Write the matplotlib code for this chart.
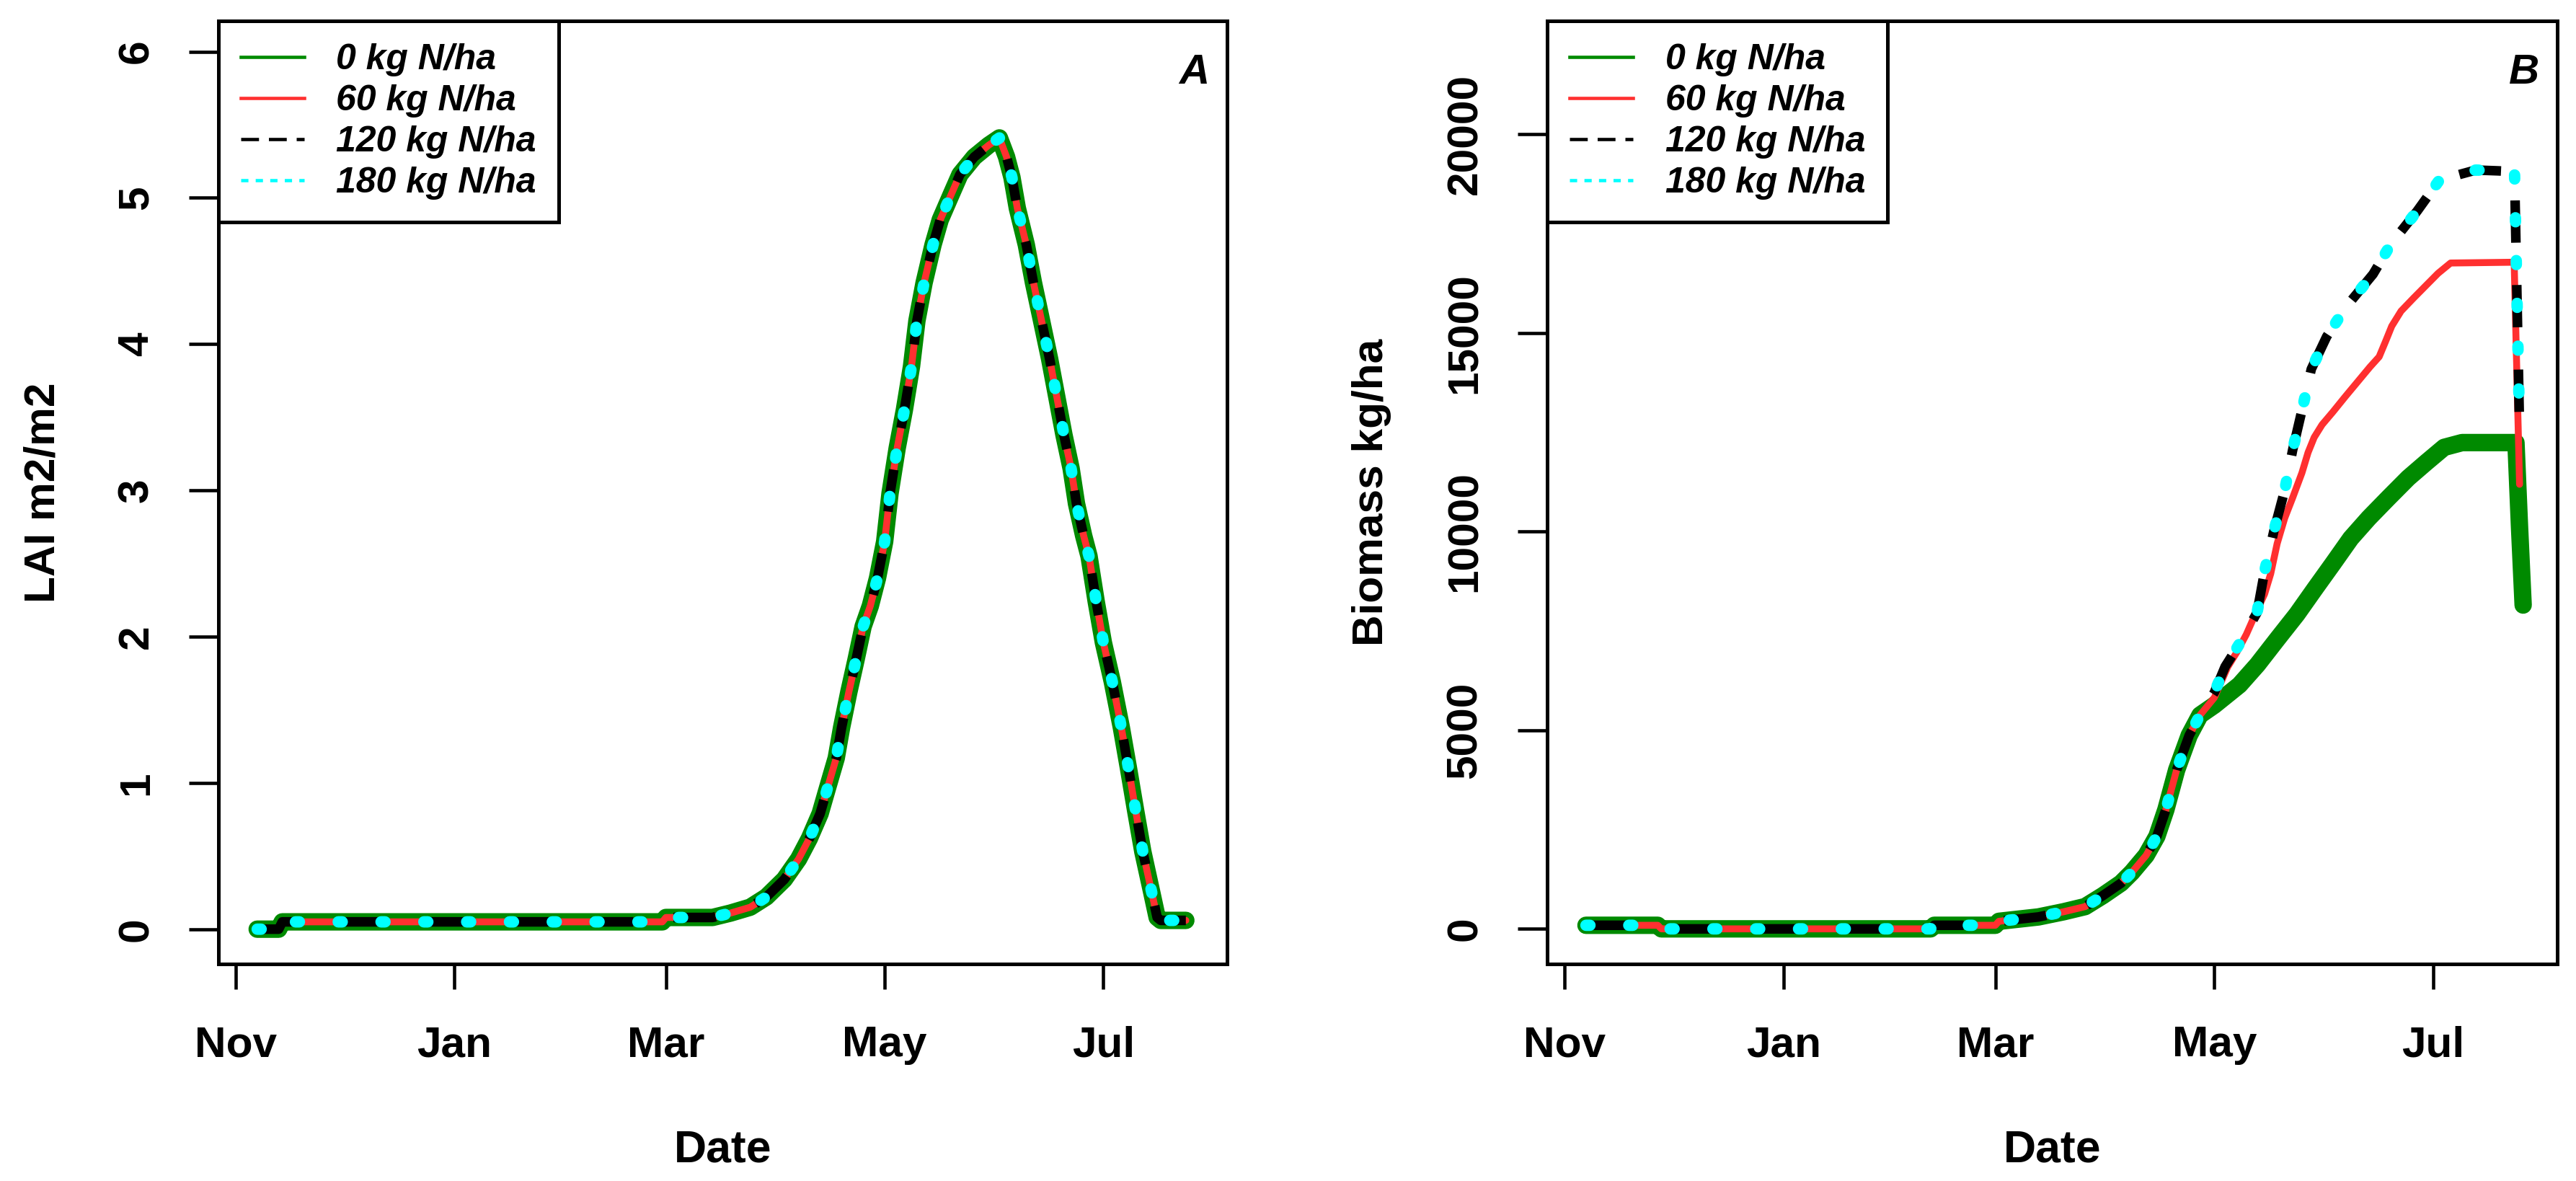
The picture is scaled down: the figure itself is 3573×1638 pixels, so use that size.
import numpy as np
import matplotlib
matplotlib.use("Agg")
import matplotlib.pyplot as plt
import matplotlib.dates as mdates
from matplotlib.lines import Line2D

plt.rcParams['font.family'] = ['Liberation Sans', 'DejaVu Sans']
plt.rcParams['font.weight'] = 'bold'

# season start; all days below are counted from this date
season_start = np.datetime64('2014-11-01')

treatments = ['0 kg N/ha', '60 kg N/ha', '120 kg N/ha', '180 kg N/ha']

# LAI is the same for every N rate
lai_day = [6, 12, 13, 119, 120, 133, 138, 143.5, 148, 153, 157, 160, 163, 165,
           167.5, 169, 171, 173, 175, 177, 179, 181, 182.5, 184.5, 186.5, 188.5,
           190, 192, 194.5, 196.5, 199.5, 202, 206, 210, 213, 215, 216.5, 218,
           220.5, 222.5, 224.5, 227, 229, 231, 233, 234.5, 236.5, 238, 240, 242,
           244.5, 247, 249, 251, 253, 255.5, 257, 258, 265]
lai_val = [0.0, 0.0, 0.05, 0.05, 0.08, 0.08, 0.11, 0.15, 0.22, 0.34, 0.48, 0.62,
           0.79, 0.96, 1.17, 1.38, 1.62, 1.84, 2.07, 2.21, 2.40, 2.65, 2.98, 3.29,
           3.55, 3.85, 4.16, 4.42, 4.68, 4.85, 5.02, 5.16, 5.28, 5.36, 5.41, 5.28,
           5.14, 4.93, 4.68, 4.42, 4.19, 3.90, 3.64, 3.38, 3.15, 2.91, 2.69, 2.55,
           2.24, 1.96, 1.69, 1.38, 1.10, 0.81, 0.53, 0.25, 0.08, 0.06, 0.06]

# biomass, shared part before the N rates split
bio_common_day = [6, 26, 27, 102, 103, 120, 121, 132, 139, 145, 150, 155, 158,
                  162, 165, 167.5, 170.5, 174, 177]
bio_common_val = [90, 90, 0, 0, 90, 90, 190, 300, 430, 560, 840, 1150, 1420,
                  1850, 2330, 3000, 4000, 4870, 5380]

bio0_day = [181, 188, 193, 198.5, 204, 209, 214, 219, 224, 229.5, 235, 240,
            245, 250, 265, 266, 267]
bio0_val = [5630, 6140, 6650, 7290, 7920, 8560, 9190, 9830, 10340, 10850,
            11350, 11740, 12120, 12240, 12240, 10100, 8150]

bio60_day = [181, 184.7, 187.3, 189.9, 192.4, 195, 196.7, 198.5, 200.6, 202.8,
             205.4, 207.1, 208.8, 211, 214, 217.4, 220.9, 224.4, 226.9, 228.7,
             230.4, 233, 236.4, 239.9, 243.3, 246.8, 264.5, 266]
bio60_val = [5820, 6590, 6970, 7410, 7920, 8430, 8940, 9700, 10340, 10850,
             11480, 11990, 12370, 12690, 13010, 13390, 13770, 14150, 14400,
             14790, 15170, 15550, 15870, 16190, 16500, 16760, 16780, 11190]

bio120_day = [181, 184, 187.7, 192.9, 195, 197.6, 200.6, 202.8, 205.6, 208,
              212.3, 217.9, 225.2, 230.2, 237.5, 243.7, 253.8, 260, 264.6, 266]
bio120_val = [5950, 6600, 7130, 7960, 9000, 10020, 11040, 12050, 13130, 14090,
              14910, 15680, 16480, 17240, 18070, 18850, 19100, 19080, 19060, 12600]

bio180_day = [181, 184, 187.7, 192.9, 195, 197.6, 200.6, 202.8, 205.6, 208,
              212.3, 217.9, 225.2, 230.2, 237.5, 243.7, 253.8, 260, 264.6, 266]
bio180_val = [5950, 6600, 7130, 7960, 9000, 10020, 11040, 12050, 13130, 14090,
              14910, 15680, 16480, 17240, 18070, 18850, 19100, 19080, 19060, 12600]


def to_num(days):
    return mdates.date2num(season_start) + np.asarray(days, dtype=float)


# line looks for the four N rates (drawn in this order)
line_styles = [
    dict(color='#008a00', lw=5.8, solid_capstyle='round', solid_joinstyle='round'),
    dict(color='#ff3030', lw=2.3, solid_capstyle='round', solid_joinstyle='round'),
    dict(color='black', lw=3.2, dashes=(4.4, 4.4)),
    dict(color='#00ffff', lw=3.8, dashes=(0.35, 3.4), dash_capstyle='round'),
]
legend_styles = [
    dict(color='#008a00', lw=1.1),
    dict(color='#ff3030', lw=1.1),
    dict(color='black', lw=1.1, dashes=(5.4, 3.0)),
    dict(color='#00ffff', lw=1.1, dashes=(2.2, 2.2)),
]

fig = plt.figure(figsize=(3573 / 300, 1638 / 300), dpi=300)
ax1 = fig.add_axes([303 / 3573, 1 - 1337 / 1638, 1399 / 3573, 1308 / 1638])
ax2 = fig.add_axes([2146 / 3573, 1 - 1337 / 1638, 1401 / 3573, 1308 / 1638])

#panel A: LAI
for st in line_styles:
    ax1.plot(to_num(lai_day), lai_val, **st)

#panel B: biomass
bio_series = [(bio0_day, bio0_val), (bio60_day, bio60_val),
              (bio120_day, bio120_val), (bio180_day, bio180_val)]
for (d, v), st in zip(bio_series, line_styles):
    ax2.plot(to_num(bio_common_day + d), bio_common_val + v, **st)

handles = [Line2D([], [], **st) for st in legend_styles]

for ax, ylab, ylim, yt, tag in [
        (ax1, 'LAI m2/m2', (-0.238, 6.21), [0, 1, 2, 3, 4, 5, 6], 'A'),
        (ax2, 'Biomass kg/ha', (-884, 22854), [0, 5000, 10000, 15000, 20000], 'B')]:
    ax.set_xlim(to_num(-4.8), to_num(276.5))
    ax.set_ylim(*ylim)
    ax.set_yticks(yt)
    ax.xaxis.set_major_locator(mdates.MonthLocator(bymonth=[11, 1, 3, 5, 7]))
    ax.xaxis.set_major_formatter(mdates.DateFormatter('%b'))
    ax.tick_params(axis='x', length=8.5, width=1.1, pad=12, labelsize=14.5)
    ax.tick_params(axis='y', length=9.8, width=1.1, pad=10.8, labelsize=14.5,
                   rotation=90)
    for t in ax.yaxis.get_major_ticks():
        t.label1.set_va('center')
    for sp in ax.spines.values():
        sp.set_linewidth(1.2)

    ax.set_xlabel('Date', fontsize=15, fontweight='bold')
    ax.xaxis.set_label_coords(0.5, -(1611 - 1337) / 1308)
    ax.xaxis.label.set_va('baseline')
    ax.set_ylabel(ylab, fontsize=14.5, fontweight='bold')
    ax.yaxis.set_label_coords(-228 / 1400, 0.5)
    ax.yaxis.label.set_va('baseline')

    leg = ax.legend(handles, treatments, loc='upper left', bbox_to_anchor=(0, 1),
                    borderaxespad=0, fancybox=False, framealpha=1,
                    edgecolor='black', handlelength=1.75, handletextpad=0.9,
                    labelspacing=0.22, borderpad=0.62,
                    prop=dict(size=12, weight='bold', style='italic'))
    leg.get_frame().set_linewidth(1.2)

    ax.text(0.967, 0.945, tag, transform=ax.transAxes, ha='center', va='center',
            fontsize=14, fontweight='bold', style='italic')

fig.savefig('out.png', dpi=300)
